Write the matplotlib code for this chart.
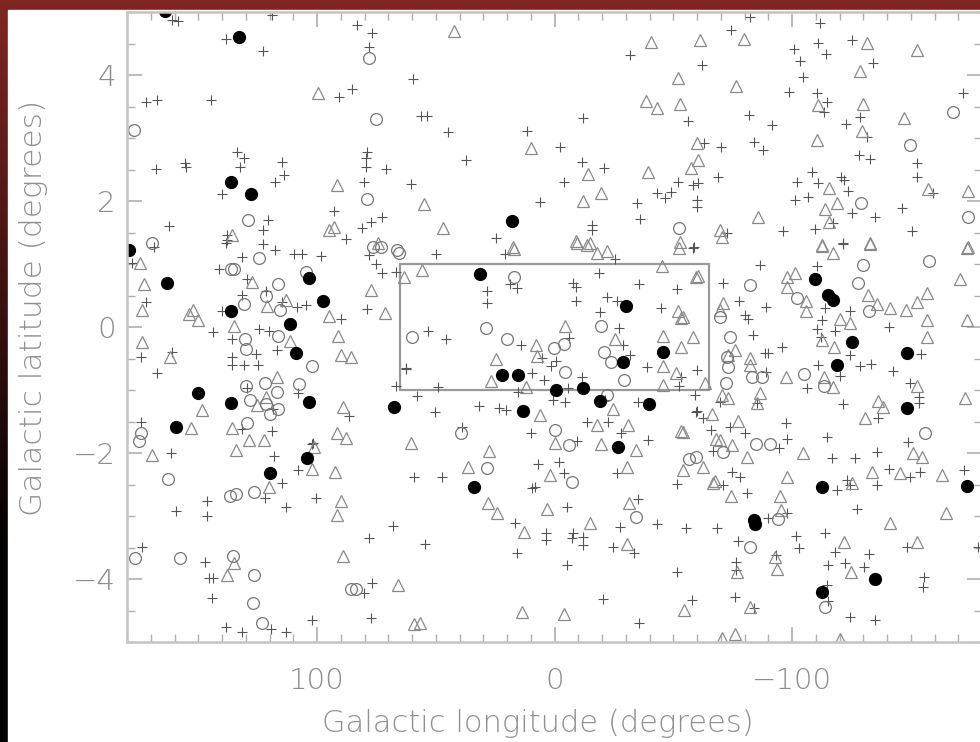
import numpy as np
import matplotlib
matplotlib.use("Agg")
import matplotlib.pyplot as plt
from matplotlib.patches import Rectangle

# (galactic longitude, galactic latitude) in degrees
filled = [
    (133, 4.60), (136.3, 2.30), (127.8, 2.11), (164, 5.02), (179.3, 1.22),
    (163.3, 0.70), (136.3, 0.25), (103.4, 0.78), (97.5, 0.41), (111.4, 0.05),
    (108.9, -0.41), (150.2, -1.05), (136.3, -1.21), (159.5, -1.59), (103.4, -1.19),
    (67.5, -1.27), (104.2, -2.08), (119.8, -2.32), (31.2, 0.84), (18.1, 1.68),
    (21.9, -0.76), (15.2, -0.76), (13.1, -1.33), (-0.8, -1.00), (-11.8, -0.97),
    (-19.0, -1.17), (-30.0, 0.33), (-28.7, -0.56), (-45.6, -0.40), (-39.7, -1.22),
    (-26.6, -1.90), (33.8, -2.54), (-109.7, 0.76), (-115.2, 0.51), (-117.3, 0.43),
    (-125.3, -0.24), (-119.0, -0.60), (-148.5, -0.41), (-148.5, -1.29),
    (-112.7, -2.54), (-173.8, -2.52), (-84.0, -3.06), (-84.4, -3.13),
    (-112.7, -4.21), (-135.0, -4.0),
]

circles = [
    (177.2, 3.13), (129.1, 1.70), (169.6, 1.33), (78.1, 4.27), (75.1, 3.30),
    (78.9, 2.03), (66.2, 1.22), (-167.9, 3.41), (-149.8, 2.89), (-129.1, 1.97),
    (-174.3, 1.75), (-52.3, 1.57),
    (136.3, 0.92), (135.0, 0.92), (124.5, 1.10), (116.5, 0.68), (104.6, 0.87),
    (130.8, 0.37), (121.5, 0.49), (115.6, 0.27), (130.4, -0.19), (130.0, -0.35),
    (116.5, -0.14), (102.1, -0.62), (130.0, -0.94), (121.9, -0.89), (116.9, -1.03),
    (128.3, -1.16), (121.5, -1.22), (116.5, -1.30), (119.8, -1.38), (107.6, -0.90),
    (129.5, -1.52), (174.3, -1.68), (175.1, -1.81), (162.9, -2.41), (59.9, -0.16),
    (76.4, 1.27), (73.0, 1.27),
    (65.4, 1.17), (16.9, 0.79), (28.7, -0.02), (19.8, -0.19), (0.4, -0.33),
    (-3.8, -0.27), (-4.6, -0.71), (-19.4, 0.02), (-20.7, -0.40), (-23.6, -0.56),
    (-29.1, -0.84), (-21.9, -1.08), (39.2, -1.68), (-0.4, -1.63), (-6.3, -1.87),
    (28.3, -2.24), (-7.2, -2.46), (-56.5, -2.10), (-59.5, -2.06),
    (-157.8, 1.05), (-82.3, 0.67), (-102.1, 0.46), (-127.8, 0.70), (-130.0, 0.98),
    (-132.5, 0.25), (-69.6, 0.16), (-73.8, -0.16), (-72.6, -0.48), (-73.0, -0.63),
    (-72.2, -0.89), (-83.1, -0.79), (-87.3, -0.79), (-105.1, -0.75), (-113.5, -0.94),
    (-84.8, -1.86), (-90.7, -1.86), (-156.1, -1.68),
    (-70.9, -1.98), (-94.1, -3.05), (-82.3, -3.49), (-113.9, -4.44),
    (136.7, -2.68), (134.2, -2.65), (126.6, -2.62), (176.8, -3.67), (157.8, -3.67),
    (135.4, -3.63), (126.6, -3.94), (127.0, -4.38), (123.2, -4.70), (85.7, -4.16),
    (83.5, -4.16), (-34.2, -3.02),
]

triangles = [
    (99.6, 3.71), (135.9, 1.46), (94.9, 1.54),
    (42.2, 4.70), (-40.5, 4.52), (-38.4, 3.59), (-43.0, 3.48), (10.1, 2.84),
    (-14.3, 2.43), (-39.2, 2.46), (91.6, 2.25), (54.9, 1.95), (-19.4, 2.13),
    (-12.2, 2.00), (46.8, 1.57), (92.8, 1.59), (-8.9, 1.37), (74.3, 1.33),
    (-14.8, 1.33), (17.3, 1.27),
    (-61.2, 4.56), (-79.7, 4.57), (-131.6, 4.51), (-152.7, 4.40), (-128.7, 4.06),
    (-51.9, 3.95), (-76.4, 3.83), (-52.7, 3.54), (-111.0, 3.52), (-130.0, 3.54),
    (-147.3, 3.32), (-129.5, 3.11), (-110.5, 2.97), (-59.9, 2.92), (-60.3, 2.65),
    (-57.4, 2.52), (-115.6, 2.21), (-157.4, 2.19), (-174.3, 2.16), (-119.0, 1.97),
    (-113.9, 1.87), (-85.7, 1.75), (-115.6, 1.67), (-69.6, 1.54), (-70.5, 1.43),
    (-52.7, 1.35), (-112.7, 1.30), (-132.9, 1.33), (-174.3, 1.27),
    (174.7, 1.02), (173.0, 0.68), (173.8, 0.27), (154.0, 0.21), (150.2, 0.11),
    (152.3, 0.27), (127.4, 0.71), (121.1, 0.33), (113.1, 0.43), (135.0, 0.02),
    (111.4, -0.22), (91.1, -0.14), (94.9, 0.17), (89.9, -0.44), (85.7, -0.48),
    (77.2, 0.59), (71.3, 0.22), (63.3, 0.79), (173.8, -0.24), (162.0, -0.48),
    (116.9, -0.79), (121.5, -1.11), (125.3, -1.24), (148.5, -1.32), (135.9, -1.60),
    (128.7, -1.79), (122.4, -1.79), (153.2, -1.60), (91.6, -1.68), (87.8, -1.76),
    (89.0, -1.27), (134.2, -1.95), (169.6, -2.03), (101.3, -1.90), (102.1, -2.25),
    (92.4, -2.30), (60.3, -1.84), (120.3, -2.54),
    (-9.3, 1.33), (-13.5, 1.30), (-17.7, 1.17), (-21.9, 1.21), (16.9, 1.24),
    (-52.3, 1.25), (55.7, 0.90), (-45.1, 0.97), (-59.5, 0.79), (-51.9, 0.25),
    (-53.2, 0.14), (-4.6, 0.02), (-25.3, -0.19), (-45.6, -0.14), (-53.2, -0.32),
    (-58.2, -0.16), (7.6, -0.29), (7.2, -0.46), (24.5, -0.51), (26.6, -0.86),
    (11.8, -0.95), (-45.6, -0.62), (-51.1, -0.73), (-45.6, -0.92), (-24.5, -1.30),
    (6.3, -1.40), (-18.1, -1.56), (-30.8, -1.56), (-53.2, -1.65), (-0.4, -1.84),
    (-19.4, -1.86), (-34.2, -1.95), (-30.4, -2.22), (27.4, -1.97), (36.3, -2.22),
    (2.1, -2.35), (-54.0, -2.27),
    (-112.7, 1.29), (-117.3, 1.17), (-132.9, 1.32), (-173.8, 1.25), (-60.3, 0.81),
    (-170.9, 0.76), (-97.9, 0.79), (-101.3, 0.86), (-97.9, 0.63), (-105.9, 0.41),
    (-105.9, 0.25), (-132.1, 0.51), (-135.9, 0.37), (-141.4, 0.30), (-148.1, 0.27),
    (-157.0, 0.54), (-152.7, 0.40), (-157.0, 0.11), (-157.0, -0.16), (-173.8, 0.11),
    (-120.3, 0.13), (-124.5, 0.06), (-117.7, -0.32), (-112.7, -0.21), (-54.0, 0.16),
    (-70.9, 0.38), (-69.6, 0.27), (-82.3, -0.49), (-82.3, -0.60), (-73.0, -0.44),
    (-75.9, -0.37), (-97.5, -0.79), (-113.5, -0.79), (-117.3, -0.95), (-63.3, -0.89),
    (-86.5, -1.05), (-85.2, -1.21), (-70.5, -1.08), (-73.0, -1.13), (-152.7, -0.94),
    (-173.0, -1.13), (-136.3, -1.17), (-138.4, -1.27), (-130.8, -1.44), (-66.2, -1.38),
    (-77.2, -1.49), (-54.0, -1.67), (-69.6, -1.79), (-104.6, -2.00), (-151.1, -2.00),
    (-154.9, -2.06), (-62.4, -2.22), (-81.0, -2.06), (-97.9, -2.38), (-133.8, -2.30),
    (-145.6, -2.32), (-163.3, -2.35), (-67.5, -2.44),
    (-67.9, -1.78), (-74.7, -1.87), (-66.7, -2.48), (-74.3, -2.68), (-94.9, -2.68),
    (-95.4, -2.90), (-125.3, -2.48), (-165.0, -2.95), (-141.4, -3.11), (-121.9, -3.41),
    (-152.7, -3.41), (-92.8, -3.65), (-93.7, -3.84), (-76.8, -3.89), (-124.9, -3.89),
    (-54.4, -4.49), (-82.3, -4.44), (-70.5, -4.94), (-75.9, -4.87), (-120.3, -4.95),
    (89.9, -2.76), (91.6, -2.98), (135.0, -3.75), (138.0, -3.94), (89.0, -3.63),
    (65.8, -4.10), (59.1, -4.71),
    (27.8, -2.79), (24.1, -2.95), (3.0, -2.89), (12.7, -3.25), (-14.8, -3.11),
    (-31.2, -2.79), (-30.4, -3.44), (13.5, -4.52), (-4.2, -4.56), (56.5, -4.70),
]

pluses = [
    (161.2, 4.87), (158.6, 4.86), (138.4, 4.57), (122.8, 4.38), (172.2, 3.57),
    (167.5, 3.60), (144.7, 3.60), (133.8, 2.78), (130.8, 2.68), (132.5, 2.54),
    (155.7, 2.60), (155.3, 2.54), (167.9, 2.51), (114.8, 2.62), (113.9, 2.41),
    (117.7, 2.30), (140.1, 2.11), (120.7, 1.70), (122.8, 1.54), (162.4, 1.60),
    (138.0, 1.46), (138.0, 1.38), (119.0, 4.95),
    (83.1, 4.79), (76.8, 4.67), (78.1, 4.44), (-31.6, 4.32), (59.5, 3.94),
    (90.7, 3.65), (85.2, 3.78), (56.1, 3.35), (53.6, 3.35), (44.7, 3.10),
    (11.4, 3.11), (-12.2, 3.32), (-2.5, 2.86), (78.9, 2.78), (79.3, 2.68),
    (79.3, 2.54), (70.9, 2.51), (37.1, 2.65), (-11.4, 2.62), (-20.7, 2.52),
    (-4.2, 2.30), (80.2, 2.30), (60.3, 2.27), (6.3, 1.98), (-34.6, 1.97),
    (-43.0, 2.13), (-35.9, 1.71), (72.6, 1.75), (77.2, 1.67), (81.0, 1.57),
    (92.8, 1.84), (87.8, 1.40), (24.5, 1.41), (-15.6, 1.62), (-15.6, 1.54),
    (-82.3, 4.92), (-111.8, 4.83), (-74.3, 4.71), (-100.8, 4.41), (-111.0, 4.51),
    (-114.3, 4.33), (-125.3, 4.56), (-134.2, 4.19), (-103.4, 4.22), (-62.0, 4.16),
    (-104.6, 3.97), (-98.7, 3.73), (-110.5, 3.71), (-114.8, 3.57), (-113.5, 3.41),
    (-172.2, 3.71), (-81.9, 3.37), (-91.6, 3.21), (-56.1, 3.27), (-122.8, 3.22),
    (-128.7, 3.33), (-131.6, 3.02), (-62.9, 2.92), (-70.0, 2.86), (-84.0, 2.94),
    (-87.8, 2.81), (-128.3, 2.73), (-132.9, 2.67), (-152.7, 2.60), (-152.7, 2.38),
    (-68.8, 2.38), (-51.9, 2.30), (-60.3, 2.29), (-58.2, 2.25), (-46.4, 2.05),
    (-48.9, 2.14), (-102.1, 2.30), (-108.4, 2.46), (-111.0, 2.29), (-120.7, 2.38),
    (-121.9, 2.33), (-123.6, 2.16), (-101.3, 2.02), (-106.8, 2.06), (-125.3, 1.81),
    (-135.0, 1.75), (-146.4, 1.89), (-159.5, 2.13), (-96.2, 1.52), (-109.7, 1.56),
    (-117.3, 1.65), (-121.5, 1.33), (-150.6, 1.52), (-59.9, 1.90), (-59.9, 2.02),
    (-72.6, 1.49), (-58.6, 1.27),
    (168.8, 1.27), (138.4, 1.33), (122.8, 1.32), (117.7, 1.22), (109.7, 1.16),
    (106.3, 1.16), (98.3, 1.13), (131.6, 1.11), (141.4, 0.92), (178.1, 1.02),
    (129.5, 0.76), (78.1, 1.14), (75.1, 1.00), (72.6, 0.86), (66.7, 0.87),
    (131.6, 0.51), (121.5, 0.57), (114.8, 0.40), (108.4, 0.32), (104.6, 0.35),
    (140.1, 0.25), (172.2, 0.40), (89.9, 0.13), (78.9, 0.29), (143.9, -0.08),
    (124.5, -0.03), (120.3, -0.06), (135.9, -0.19), (116.9, -0.37), (125.7, -0.43),
    (135.9, -0.48), (135.9, -0.60), (130.8, -0.60), (124.9, -0.60), (174.3, -0.48),
    (161.2, -0.40), (167.5, -0.73), (129.5, -0.97), (108.0, -1.05), (118.6, -1.30),
    (86.5, -1.41), (66.7, -0.94), (62.4, -0.67), (174.3, -1.51), (131.6, -1.62),
    (119.0, -1.65), (161.6, -2.00), (118.1, -2.05), (101.7, -1.84), (108.0, -2.27),
    (114.8, -2.48), (59.1, -2.38), (57.8, -1.10),
    (49.8, 1.16), (20.7, 1.16), (-25.3, 1.08), (-58.2, 1.25), (-18.6, 0.86),
    (-7.6, 0.70), (-8.9, 0.63), (-35.4, 0.68), (-51.5, 0.60), (28.3, 0.57),
    (28.3, 0.38), (18.6, 0.68), (15.6, 0.62), (-8.9, 0.41), (-21.9, 0.48),
    (-26.2, 0.41), (-19.0, 0.24), (-44.7, 0.30), (-27.0, -0.02), (53.2, -0.06),
    (45.6, -0.19), (14.3, -0.29), (-5.9, -0.17), (-28.7, -0.29), (-31.6, -0.44),
    (5.1, -0.49), (-0.8, -0.54), (1.3, -0.62), (9.3, -0.73), (4.6, -0.84),
    (62.4, -0.65), (48.9, -0.95), (-38.8, -0.63), (-53.2, -0.79), (-59.9, -0.68),
    (-52.3, -0.94), (-11.4, -0.79), (-5.5, -0.97), (31.6, -1.25), (23.2, -1.29),
    (20.3, -1.32), (15.2, -1.03), (50.2, -1.35), (0.8, -1.16), (-4.6, -1.19),
    (-21.1, -1.16), (-35.0, -1.19), (-13.5, -1.51), (-22.4, -1.51), (-27.8, -1.68),
    (-39.2, -1.79), (9.7, -1.68), (-9.3, -1.81), (6.8, -2.17), (-1.7, -2.14),
    (-3.8, -2.32), (-26.2, -2.32), (47.3, -2.38), (8.4, -2.54), (-59.1, -1.08),
    (-59.9, -1.33), (38.8, -1.59), (-51.5, -2.49),
    (-86.5, 0.98), (-110.5, 0.97), (-121.5, 1.32), (-70.9, 0.70), (-77.6, 0.41),
    (-89.0, 0.32), (-80.2, 0.19), (-81.4, 0.13), (-113.9, 0.30), (-124.5, 0.25),
    (-112.7, 0.11), (-118.1, -0.06), (-110.5, -0.03), (-112.2, -0.16), (-140.9, 0.0),
    (-83.5, -0.13), (-95.8, -0.32), (-88.6, -0.41), (-89.9, -0.41), (-89.0, -0.71),
    (-124.5, -0.44), (-128.7, -0.62), (-133.3, -0.59), (-111.0, -0.60), (-120.3, -0.78),
    (-142.6, -0.70), (-154.4, -0.43), (-106.3, -0.97), (-121.5, -1.22), (-149.8, -0.89),
    (-153.6, -1.11), (-153.6, -1.21), (-59.5, -1.35), (-62.4, -1.44), (-65.8, -1.63),
    (-73.8, -1.59), (-80.2, -1.68), (-97.5, -1.52), (-97.9, -1.78), (-114.8, -1.75),
    (-116.9, -2.08), (-126.6, -2.08), (-135.9, -1.98), (-140.9, -2.25), (-154.0, -2.30),
    (-172.6, -2.27), (-78.1, -2.38), (-74.7, -2.30), (-123.2, -2.43), (-66.7, -1.97),
    (-94.5, -1.92), (-148.9, -1.83), (-136.3, -1.44), (-69.6, -1.19), (-85.2, -1.21),
    (-149.8, -2.38), (-70.9, -2.51), (-81.0, -2.63), (-124.5, -2.51), (-119.0, -2.59),
    (-135.9, -2.51), (-127.4, -2.89), (-55.3, -3.19), (-68.4, -3.19), (-89.9, -3.03),
    (-97.9, -2.95), (-101.7, -3.32), (-103.0, -3.51), (-113.9, -3.27), (-77.2, -3.40),
    (-118.1, -3.57), (-115.2, -3.78), (-122.4, -3.75), (-132.5, -3.60), (-130.4, -3.81),
    (-114.8, -4.10), (-115.2, -4.35), (-148.5, -3.49), (-155.7, -3.97), (-155.3, -4.13),
    (-76.4, -3.73), (-76.4, -3.86), (-75.9, -4.29), (-57.8, -4.33), (-84.0, -4.46),
    (-124.5, -4.60), (-135.0, -4.65), (-93.2, -3.62), (-178.5, -3.49),
    (121.9, -2.71), (113.1, -2.86), (100.4, -2.71), (146.4, -2.76), (159.5, -2.92),
    (146.4, -3.00), (78.1, -3.35), (67.9, -3.16), (173.8, -3.49), (147.3, -3.73),
    (145.6, -3.98), (143.9, -3.98), (144.3, -4.30), (138.4, -4.76), (131.6, -4.84),
    (119.4, -4.79), (113.1, -4.84), (102.1, -4.65), (76.8, -4.06), (80.2, -4.22),
    (77.2, -4.62), (102.1, -1.86),
    (9.3, -2.56), (-5.1, -2.86), (16.5, -3.11), (3.4, -3.27), (3.4, -3.38),
    (-7.6, -3.27), (-7.2, -3.35), (-11.8, -3.33), (-11.8, -3.46), (15.6, -3.59),
    (-5.1, -3.78), (-24.5, -3.49), (-27.4, -3.17), (-33.3, -3.59), (-43.0, -3.13),
    (-35.0, -2.73), (-51.5, -3.89), (-20.3, -4.32), (-35.4, -4.70), (54.4, -3.44),
]

# survey box
box_lon = (-65, 65)
box_lat = (-1, 1)

W, H = 980, 742
fig = plt.figure(figsize=(W / 100, H / 100), dpi=100)

# dark red / black frame around the white slide area
bg = fig.add_axes([0, 0, 1, 1], zorder=-2)
bg.set_axis_off()
t = np.linspace(0, 1, 256)[:, None]
fade = np.clip(1 - t / 0.75, 0, 1)
grad = np.dstack([0.50 * fade, 0.15 * fade, 0.14 * fade])
bg.imshow(grad, aspect="auto", extent=(0, 1, 0, 1), origin="upper")
bg.add_patch(Rectangle((8 / W, 0), 1, 1 - 10 / H, color="white", zorder=2))
bg.set_xlim(0, 1)
bg.set_ylim(0, 1)

ax = fig.add_axes([127 / W, 1 - 642 / H, 855 / W, 630 / H])
ax.set_facecolor("none")

p = np.array(pluses)
tr = np.array(triangles)
c = np.array(circles)
f = np.array(filled)

ax.plot(p[:, 0], p[:, 1], "+", color="#555555", ms=7.5, mew=0.8)
ax.plot(tr[:, 0], tr[:, 1], "^", mfc="none", mec="#8a8a8a", ms=9, mew=0.9)
ax.plot(c[:, 0], c[:, 1], "o", mfc="none", mec="#777777", ms=8.5, mew=0.9)
ax.plot(f[:, 0], f[:, 1], "o", color="black", ms=8.5)

ax.add_patch(Rectangle((box_lon[0], box_lat[0]), box_lon[1] - box_lon[0],
                       box_lat[1] - box_lat[0], fill=False,
                       ec="#999999", lw=1.6))

ax.set_xlim(180, -180)
ax.set_ylim(-5, 5)
ax.set_xticks([100, 0, -100])
ax.set_xticklabels(["100", "0", "\u2212100"])
ax.set_xticks(np.arange(-180, 181, 10), minor=True)
ax.set_yticks([-4, -2, 0, 2, 4])
ax.set_yticklabels(["\u22124", "\u22122", "0", "2", "4"])
ax.set_yticks(np.arange(-5, 5.01, 0.5), minor=True)

for s in ax.spines.values():
    s.set_color("#c4c4c4")
    s.set_linewidth(1.8)

ax.tick_params(which="both", direction="in", top=True, right=True,
               color="#b0b0b0", labelcolor="#8c8c8c", labelsize=21)
ax.tick_params(which="major", length=11, width=1.2)
ax.tick_params(which="minor", length=5.5, width=1.0)
ax.tick_params(axis="x", which="major", pad=18)
ax.tick_params(axis="y", which="major", pad=8)
for lab in ax.get_xticklabels() + ax.get_yticklabels():
    lab.set_fontweight("light")

ax.set_xlabel("Galactic longitude (degrees)", fontsize=22, color="#909090",
              fontweight="light")
ax.set_ylabel("Galactic latitude (degrees)", fontsize=22.5, color="#909090",
              fontweight="light")
ax.xaxis.set_label_coords(0.48, -0.107)
ax.yaxis.set_label_coords(-0.092, 0.53)

fig.savefig("out.png", dpi=100)
